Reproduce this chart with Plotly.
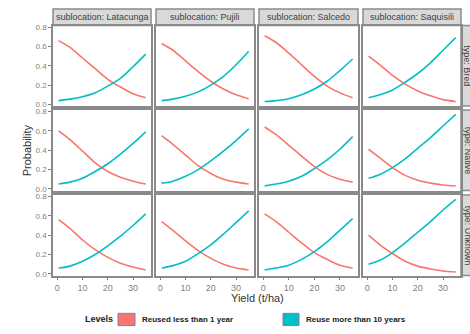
import plotly.graph_objects as go

# ---------------- data ----------------
yield_x = [0.5, 5, 10, 15, 20, 25, 30, 35]
sublocations = ["Latacunga", "Pujili", "Salcedo", "Saquisili"]
types = ["Bred", "Native", "Unknown"]
levels = ["Reused less than 1 year", "Reuse more than 10 years"]

# Reused less than 1 year
less1_bred_latacunga = [0.66, 0.59, 0.48, 0.37, 0.26, 0.18, 0.11, 0.07]
less1_bred_pujili    = [0.63, 0.56, 0.45, 0.34, 0.24, 0.16, 0.10, 0.06]
less1_bred_salcedo   = [0.71, 0.64, 0.53, 0.41, 0.29, 0.19, 0.12, 0.07]
less1_bred_saquisili = [0.50, 0.41, 0.30, 0.21, 0.14, 0.09, 0.05, 0.03]
less1_native_latacunga = [0.60, 0.51, 0.39, 0.27, 0.18, 0.12, 0.08, 0.05]
less1_native_pujili    = [0.55, 0.46, 0.35, 0.24, 0.16, 0.10, 0.07, 0.05]
less1_native_salcedo   = [0.64, 0.56, 0.45, 0.34, 0.23, 0.15, 0.10, 0.07]
less1_native_saquisili = [0.41, 0.32, 0.22, 0.14, 0.09, 0.06, 0.04, 0.03]
less1_unknown_latacunga = [0.56, 0.47, 0.35, 0.25, 0.17, 0.11, 0.07, 0.04]
less1_unknown_pujili    = [0.54, 0.45, 0.34, 0.24, 0.16, 0.10, 0.06, 0.04]
less1_unknown_salcedo   = [0.62, 0.54, 0.43, 0.32, 0.22, 0.15, 0.09, 0.06]
less1_unknown_saquisili = [0.40, 0.30, 0.21, 0.13, 0.08, 0.05, 0.03, 0.02]

# Reuse more than 10 years
more10_bred_latacunga = [0.04, 0.055, 0.08, 0.12, 0.19, 0.27, 0.39, 0.52]
more10_bred_pujili    = [0.04, 0.055, 0.085, 0.13, 0.20, 0.29, 0.41, 0.55]
more10_bred_salcedo   = [0.03, 0.04, 0.06, 0.10, 0.16, 0.24, 0.35, 0.47]
more10_bred_saquisili = [0.07, 0.10, 0.15, 0.23, 0.32, 0.43, 0.56, 0.69]
more10_native_latacunga = [0.05, 0.07, 0.11, 0.18, 0.26, 0.36, 0.47, 0.59]
more10_native_pujili    = [0.06, 0.08, 0.13, 0.20, 0.29, 0.39, 0.50, 0.62]
more10_native_salcedo   = [0.03, 0.05, 0.08, 0.13, 0.21, 0.30, 0.41, 0.54]
more10_native_saquisili = [0.11, 0.15, 0.22, 0.31, 0.42, 0.53, 0.65, 0.77]
more10_unknown_latacunga = [0.06, 0.08, 0.13, 0.20, 0.29, 0.39, 0.50, 0.62]
more10_unknown_pujili    = [0.06, 0.085, 0.13, 0.21, 0.30, 0.41, 0.53, 0.65]
more10_unknown_salcedo   = [0.04, 0.06, 0.09, 0.15, 0.23, 0.33, 0.45, 0.57]
more10_unknown_saquisili = [0.10, 0.14, 0.22, 0.32, 0.43, 0.54, 0.66, 0.77]

less1 = [
    [less1_bred_latacunga, less1_bred_pujili, less1_bred_salcedo, less1_bred_saquisili],
    [less1_native_latacunga, less1_native_pujili, less1_native_salcedo, less1_native_saquisili],
    [less1_unknown_latacunga, less1_unknown_pujili, less1_unknown_salcedo, less1_unknown_saquisili],
]
more10 = [
    [more10_bred_latacunga, more10_bred_pujili, more10_bred_salcedo, more10_bred_saquisili],
    [more10_native_latacunga, more10_native_pujili, more10_native_salcedo, more10_native_saquisili],
    [more10_unknown_latacunga, more10_unknown_pujili, more10_unknown_salcedo, more10_unknown_saquisili],
]
x_ticks = [0, 10, 20, 30]
y_ticks = [0.0, 0.2, 0.4, 0.6, 0.8]

# ---------------- layout geometry (pixels) ----------------
W, H = 470, 334
RED, TEAL = "#F8766D", "#00BFC4"
cols_px = [(53, 151), (156, 254), (259, 358), (363, 461)]
rows_px = [(23, 105), (109, 191), (195.5, 277.5)]
strip_top = (6, 23)
strip_right = (461, 480)
BORDER = "#8a8a8a"
STRIP = "#D9D9D9"
TICKCOL = "#7f7f7f"

def px(x):
    return x / W

def py(y):
    return 1 - y / H

fig = go.Figure()
layout = {}
shapes = []
annotations = []

for r in range(3):
    for c in range(4):
        i = r * 4 + c + 1
        xa = "x" if i == 1 else f"x{i}"
        ya = "y" if i == 1 else f"y{i}"
        fig.add_trace(go.Scatter(x=yield_x, y=less1[r][c], mode="lines",
                                 line=dict(color=RED, width=1.6, shape="spline", smoothing=0.8),
                                 xaxis=xa, yaxis=ya, showlegend=False, name=levels[0]))
        fig.add_trace(go.Scatter(x=yield_x, y=more10[r][c], mode="lines",
                                 line=dict(color=TEAL, width=1.6, shape="spline", smoothing=0.8),
                                 xaxis=xa, yaxis=ya, showlegend=False, name=levels[1]))
        x0, x1 = cols_px[c]
        y0, y1 = rows_px[r]
        xkey = "xaxis" if i == 1 else f"xaxis{i}"
        ykey = "yaxis" if i == 1 else f"yaxis{i}"
        layout[xkey] = dict(
            domain=[px(x0), px(x1)], anchor=ya, range=[-1.7, 37.1],
            tickvals=x_ticks, showticklabels=(r == 2), ticks="outside" if r == 2 else "",
            ticklen=3, tickcolor=TICKCOL, tickfont=dict(size=9, color=TICKCOL, family="Liberation Sans"),
            showgrid=False, zeroline=False, showline=True, mirror=True,
            linecolor=BORDER, linewidth=1.5,
        )
        layout[ykey] = dict(
            domain=[py(y1), py(y0)], anchor=xa, range=[-0.017, 0.815],
            tickvals=y_ticks, ticktext=[f"{v:.1f}" for v in y_ticks],
            showticklabels=(c == 0), ticks="outside" if c == 0 else "",
            ticklen=3, tickcolor=TICKCOL, tickfont=dict(size=8, color=TICKCOL, family="Liberation Sans"),
            showgrid=False, zeroline=False, showline=True, mirror=True,
            linecolor=BORDER, linewidth=1.5,
        )

# top strips
for c, name in enumerate(sublocations):
    x0, x1 = cols_px[c]
    shapes.append(dict(type="rect", xref="paper", yref="paper",
                       x0=px(x0), x1=px(x1), y0=py(strip_top[1]), y1=py(strip_top[0]),
                       fillcolor=STRIP, line=dict(color=BORDER, width=1.5), layer="below"))
    annotations.append(dict(xref="paper", yref="paper", x=px((x0 + x1) / 2), y=py((strip_top[0] + strip_top[1]) / 2),
                            text=f"sublocation: {name}", showarrow=False,
                            font=dict(size=9, color="#404040", family="Liberation Sans"),
                            xanchor="center", yanchor="middle"))

# right strips
for r, name in enumerate(types):
    y0, y1 = rows_px[r]
    shapes.append(dict(type="rect", xref="paper", yref="paper",
                       x0=px(strip_right[0]), x1=px(strip_right[1]), y0=py(y1), y1=py(y0),
                       fillcolor=STRIP, line=dict(color=BORDER, width=1.5), layer="below"))
    annotations.append(dict(xref="paper", yref="paper", x=px(467.5), y=py((y0 + y1) / 2),
                            text=f"type: {name}", showarrow=False, textangle=90,
                            font=dict(size=9, color="#404040", family="Liberation Sans"),
                            xanchor="center", yanchor="middle"))

# axis titles
annotations.append(dict(xref="paper", yref="paper", x=px(27), y=py(150), text="Probability",
                        showarrow=False, textangle=-90,
                        font=dict(size=11, color="#333333", family="Liberation Sans"),
                        xanchor="center", yanchor="middle"))
annotations.append(dict(xref="paper", yref="paper", x=px(257), y=py(300), text="Yield (t/ha)",
                        showarrow=False,
                        font=dict(size=11, color="#333333", family="Liberation Sans"),
                        xanchor="center", yanchor="middle"))

# legend (manual)
annotations.append(dict(xref="paper", yref="paper", x=px(83), y=py(322), text="<b>Levels</b>",
                        showarrow=False, font=dict(size=9, color="#222222", family="Liberation Sans"),
                        xanchor="left", yanchor="middle"))
legend_items = [(levels[0], RED, 118, 135), (levels[1], TEAL, 283, 299)]
for label, col, bx0, bx1 in legend_items:
    shapes.append(dict(type="rect", xref="paper", yref="paper",
                       x0=px(bx0), x1=px(bx1), y0=py(328.5), y1=py(316),
                       fillcolor=col, line=dict(color="#8080a0", width=1)))
    annotations.append(dict(xref="paper", yref="paper", x=px(bx1 + 5), y=py(322), text=f"<b>{label}</b>",
                            showarrow=False, font=dict(size=8, color="#222222", family="Liberation Sans"),
                            xanchor="left", yanchor="middle"))

fig.update_layout(
    width=W, height=H, margin=dict(l=0, r=0, t=0, b=0),
    paper_bgcolor="white", plot_bgcolor="white",
    showlegend=False, shapes=shapes, annotations=annotations, **layout,
)
fig.write_html("out.html", config={"displayModeBar": False})
